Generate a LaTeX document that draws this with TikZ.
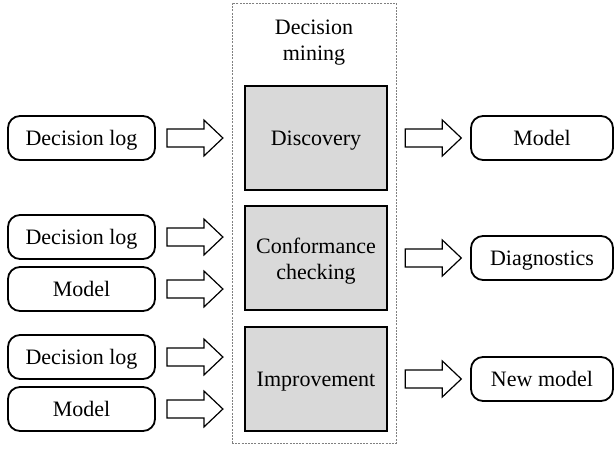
\documentclass[tikz,border=0pt]{standalone}
\usepackage{fontspec}
\setmainfont{Liberation Serif}
\usetikzlibrary{calc}

\tikzset{
	txt/.style={font=\fontsize{22}{26}\selectfont},
	one/.style={text height=16pt, text depth=2pt},
	io/.style={txt, one, draw, line width=1.8pt, rounded corners=12pt, minimum width=147pt, minimum height=44pt, inner sep=0pt},
	task/.style={txt, one, draw, line width=2.6pt, fill=black!15, minimum width=142pt, minimum height=104pt, align=center, inner sep=0pt},
	fat/.style={draw, line width=1.2pt, line join=miter},
	frame/.style={draw=black!50, dashed, dash pattern=on 2pt off 1.2pt, line width=0.6pt, minimum width=164pt, minimum height=440pt, inner sep=0pt},
}
% block arrow, tail centre at #1
\newcommand{\fatarrow}[1]{\draw[fat] (#1) ++(0,9) -- ++(37,0) -- ++(0,9) -- ++(19,-18) -- ++(-19,-18) -- ++(0,9) -- ++(-37,0) -- cycle;}

\begin{document}
\begin{tikzpicture}[x=1pt,y=1pt]
	\useasboundingbox (0,0) rectangle (615,448);

	\node[frame] (dm) at (314,225) {};
	\node[txt, align=center] (title) at (314,405) {Decision\\mining};

	\node[task] (disc) at (316,310) {Discovery};
	\node[task, text height=44pt, text depth=2pt] (conf) at (316,190) {Conformance\\checking};
	\node[task] (impr) at (316,69) {Improvement};

	\node[io] (log1) at (81.5,310) {Decision log};
	\node[io] (log2) at (81.5,211) {Decision log};
	\node[io] (mod2) at (81.5,159) {Model};
	\node[io] (log3) at (81.5,91) {Decision log};
	\node[io] (mod3) at (81.5,39) {Model};

	\node[io, minimum width=142pt] (out1) at (542,310) {Model};
	\node[io, minimum width=142pt] (out2) at (542,190) {Diagnostics};
	\node[io, minimum width=142pt] (out3) at (542,69) {New model};

	\foreach \n in {log1,log2,mod2,log3,mod3}{
		\fatarrow{$(\n.east)+(11,0)$}
	}
	\foreach \n in {disc,conf,impr}{
		\fatarrow{$(\n.east)+(17,0)$}
	}
\end{tikzpicture}
\end{document}
